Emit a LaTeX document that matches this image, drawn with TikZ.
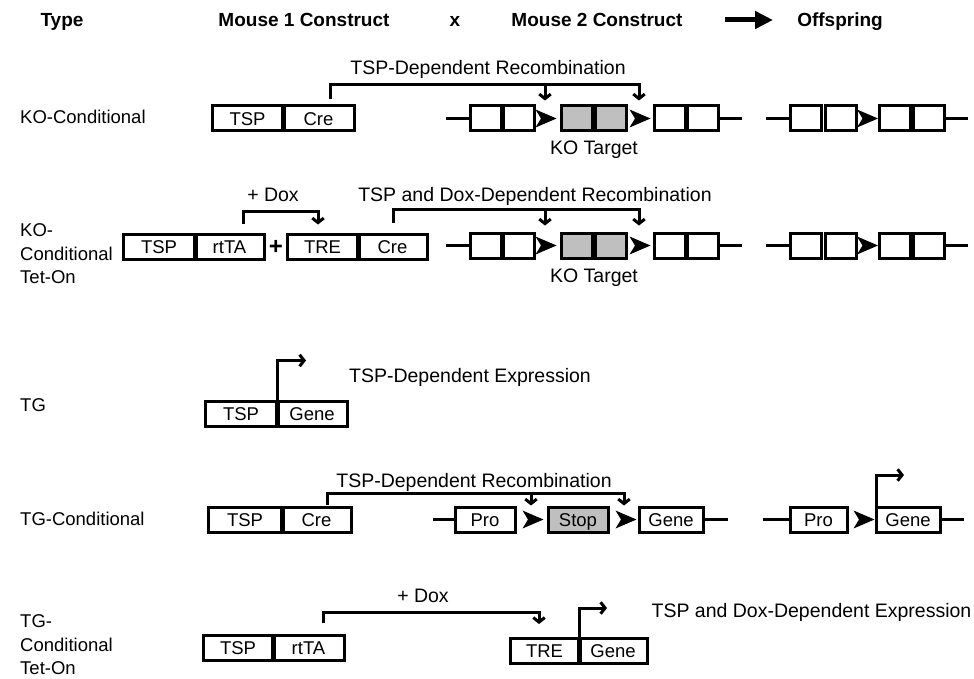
\documentclass[tikz,border=0pt]{standalone}
\usepackage{fontspec}
\setmainfont{Liberation Sans}
\usetikzlibrary{arrows.meta,calc}

\newcommand{\fsLbl}{\fontsize{19.5}{22}\selectfont}
\newcommand{\fsBox}{\fontsize{18.5}{21}\selectfont}
\newcommand{\fsSide}{\fontsize{18.5}{23.5}\selectfont}
\newcommand{\fsHdr}{\bfseries\fontsize{19}{22}\selectfont}

\tikzset{
  seg/.style={draw, line width=3pt, minimum height=25pt, inner sep=0pt, outer sep=0pt,
              font=\fsBox, text height=13.3pt, text depth=0pt},
  exon/.style={draw, line width=3pt, minimum width=31pt, minimum height=25pt, inner sep=0pt, outer sep=0pt},
  target/.style={exon, fill=gray!50},
  stopbox/.style={seg, fill=gray!50},
  wire/.style={line width=3pt},
  brk/.style={line width=3pt},
  barb/.style={-{Straight Barb[length=4.5pt,width=11.5pt]}},
  divider/.style={line width=5pt},
  lbl/.style={font=\fsLbl, inner sep=0pt, text height=14pt, text depth=0pt},
  side/.style={font=\fsSide, anchor=west, align=left, inner sep=0pt},
  hdr/.style={font=\fsHdr, inner sep=0pt, text height=13.6pt, text depth=0pt},
  loxp/.pic={\fill (-10.5,-9) -- (10.5,0) -- (-10.5,9) -- (-5,0) -- cycle;}
}

\begin{document}
\begin{tikzpicture}[x=1pt,y=-1pt]
\useasboundingbox (0,0) rectangle (974,679);

% ---------- column headings ----------
\node[hdr] (hType) at (62,20) {Type};
\node[hdr] (hM1) at (304,20) {Mouse 1 Construct};
\node[hdr] (hX) at (455,20) {x};
\node[hdr] (hM2) at (597,20) {Mouse 2 Construct};
\node[hdr] (hOff) at (840,20) {Offspring};
\coordinate (hA) at (725,20);
\coordinate (hB) at (773,20);
\draw[line width=5pt, -{Triangle[length=18pt,width=17pt]}] (hA) -- (hB);

% ---------- KO-Conditional ----------
\node[side] (t1) at (20,117) {KO-Conditional};
\node[seg, minimum width=71] (p1a) at (247.5,118.5) {TSP};
\node[seg, minimum width=71] (p1b) at (318.5,118.5) {Cre};
\draw[divider] (p1a.north east) -- (p1a.south east);

\coordinate (k1l) at (446,118.5);
\node[exon] (k1a) at (485.5,118.5) {};
\node[exon] (k1b) at (518.5,118.5) {};
\coordinate (x1a) at (546,118.5);
\node[target] (k1c) at (577,118.5) {};
\node[target] (k1d) at (611,118.5) {};
\coordinate (x1b) at (640,118.5);
\node[exon] (k1e) at (669.5,118.5) {};
\node[exon] (k1f) at (702.5,118.5) {};
\coordinate (k1r) at (742,118.5);
\draw[wire] (k1l) -- (k1a.west);
\draw[wire] (k1f.east) -- (k1r);
\pic at (x1a) {loxp};
\pic at (x1b) {loxp};
\node[lbl] (kt1) at (594,148) {KO Target};

\draw[brk,barb] ($(p1b.north)+(11.5,-7)$) |- ($(x1b)+(-1,-33.5)$) -- ($(x1b)+(-1,-18)$);
\draw[brk,barb] ($(x1a)+(-1,-33.5)$) -- ($(x1a)+(-1,-18)$);
\node[lbl] (r1) at (488,68) {TSP-Dependent Recombination};

\coordinate (o1l) at (766,118.5);
\node[exon] (o1a) at (805.5,118.5) {};
\node[exon] (o1b) at (840.5,118.5) {};
\coordinate (y1) at (867.5,118.5);
\node[exon] (o1c) at (894.5,118.5) {};
\node[exon] (o1d) at (928.5,118.5) {};
\coordinate (o1r) at (968,118.5);
\draw[wire] (o1l) -- (o1a.west);
\draw[wire] (o1d.east) -- (o1r);
\pic at (y1) {loxp};

% ---------- KO-Conditional Tet-On ----------
\node[side] (t2) at (20,254) {KO-\\Conditional\\Tet-On};
\node[seg, minimum width=72] (p2a) at (159,247) {TSP};
\node[seg, minimum width=69] (p2b) at (229.5,247) {rtTA};
\draw[divider] (p2a.north east) -- (p2a.south east);
\node[font=\bfseries\fontsize{24}{24}\selectfont, inner sep=0pt] (plus) at (276,247) {+};
\node[seg, minimum width=71] (p2c) at (322.5,247) {TRE};
\node[seg, minimum width=69] (p2d) at (392.5,247) {Cre};
\draw[divider] (p2c.north east) -- (p2c.south east);
\draw[brk,barb] ($(p2b.north)+(13.5,-11)$) |- ($(p2c.north)+(-4.5,-23)$) -- ($(p2c.north)+(-4.5,-10)$);
\node[lbl] (dox2) at (273,195) {+ Dox};

\coordinate (k2l) at (446,245.5);
\node[exon] (k2a) at (485.5,245.5) {};
\node[exon] (k2b) at (518.5,245.5) {};
\coordinate (x2a) at (546,245.5);
\node[target] (k2c) at (577,245.5) {};
\node[target] (k2d) at (611,245.5) {};
\coordinate (x2b) at (640,245.5);
\node[exon] (k2e) at (669.5,245.5) {};
\node[exon] (k2f) at (702.5,245.5) {};
\coordinate (k2r) at (742,245.5);
\draw[wire] (k2l) -- (k2a.west);
\draw[wire] (k2f.east) -- (k2r);
\pic at (x2a) {loxp};
\pic at (x2b) {loxp};
\node[lbl] (kt2) at (594,275) {KO Target};

\draw[brk,barb] ($(p2d.north)+(0.5,-12)$) |- ($(x2b)+(-1,-35.5)$) -- ($(x2b)+(-1,-20)$);
\draw[brk,barb] ($(x2a)+(-1,-35.5)$) -- ($(x2a)+(-1,-20)$);
\node[lbl] (r2) at (535,195) {TSP and Dox-Dependent Recombination};

\coordinate (o2l) at (766,245.5);
\node[exon] (o2a) at (805.5,245.5) {};
\node[exon] (o2b) at (840.5,245.5) {};
\coordinate (y2) at (867.5,245.5);
\node[exon] (o2c) at (894.5,245.5) {};
\node[exon] (o2d) at (928.5,245.5) {};
\coordinate (o2r) at (968,245.5);
\draw[wire] (o2l) -- (o2a.west);
\draw[wire] (o2d.east) -- (o2r);
\pic at (y2) {loxp};

% ---------- TG ----------
\node[side] (t3) at (20,405) {TG};
\node[seg, minimum width=72] (p3a) at (241,414) {TSP};
\node[seg, minimum width=70] (p3b) at (312,414) {Gene};
\draw[divider] (p3a.north east) -- (p3a.south east);
\draw[brk,barb] (p3a.north east) -- ++(0,-41) -- ++(29,0);
\node[lbl] (e3) at (470,375) {TSP-Dependent Expression};

% ---------- TG-Conditional ----------
\node[side] (t4) at (20,519) {TG-Conditional};
\node[seg, minimum width=74] (p4a) at (245,519.5) {TSP};
\node[seg, minimum width=69] (p4b) at (316.5,519.5) {Cre};
\draw[divider] (p4a.north east) -- (p4a.south east);

\coordinate (g4l) at (433,519.5);
\node[seg, minimum width=60] (g4p) at (485,519.5) {Pro};
\coordinate (x4a) at (533,519.5);
\node[stopbox, minimum width=60] (g4s) at (578,519.5) {Stop};
\coordinate (x4b) at (626,519.5);
\node[seg, minimum width=64] (g4g) at (671,519.5) {Gene};
\coordinate (g4r) at (728,519.5);
\draw[wire] (g4l) -- (g4p.west);
\draw[wire] (g4g.east) -- (g4r);
\pic at (x4a) {loxp};
\pic at (x4b) {loxp};

\draw[brk,barb] ($(p4b.north)+(10.5,-2)$) |- ($(x4b)+(-2,-26.5)$) -- ($(x4b)+(-2,-14)$);
\draw[brk,barb] ($(x4a)+(-2,-26.5)$) -- ($(x4a)+(-2,-14)$);
\node[lbl] (r4) at (474,480) {TSP-Dependent Recombination};

\coordinate (o4l) at (763,519.5);
\node[seg, minimum width=57] (o4p) at (818.5,519.5) {Pro};
\coordinate (y4) at (864,519.5);
\node[seg, minimum width=64] (o4g) at (908,519.5) {Gene};
\coordinate (o4r) at (964,519.5);
\draw[wire] (o4l) -- (o4p.west);
\draw[wire] (o4g.east) -- (o4r);
\pic at (y4) {loxp};
\draw[brk,barb] (o4g.north west) -- ++(0,-32) -- ++(28,0);

% ---------- TG-Conditional Tet-On ----------
\node[side] (t5) at (20,645) {TG-\\Conditional\\Tet-On};
\node[seg, minimum width=70] (p5a) at (238,647.5) {TSP};
\node[seg, minimum width=71] (p5b) at (308.5,647.5) {rtTA};
\draw[divider] (p5a.north east) -- (p5a.south east);
\node[seg, minimum width=69] (p5c) at (544.5,650.5) {TRE};
\node[seg, minimum width=68] (p5d) at (613,650.5) {Gene};
\draw[divider] (p5c.north east) -- (p5c.south east);
\draw[brk,barb] ($(p5b.north)+(14.5,-12)$) |- ($(p5c.north)+(-5.5,-26)$) -- ($(p5c.north)+(-5.5,-14)$);
\node[lbl] (dox5) at (423,595) {+ Dox};
\draw[brk,barb] (p5c.north east) -- ++(0,-30) -- ++(28,0);
\node[lbl] (e5) at (811.5,610) {TSP and Dox-Dependent Expression};

\end{tikzpicture}
\end{document}
